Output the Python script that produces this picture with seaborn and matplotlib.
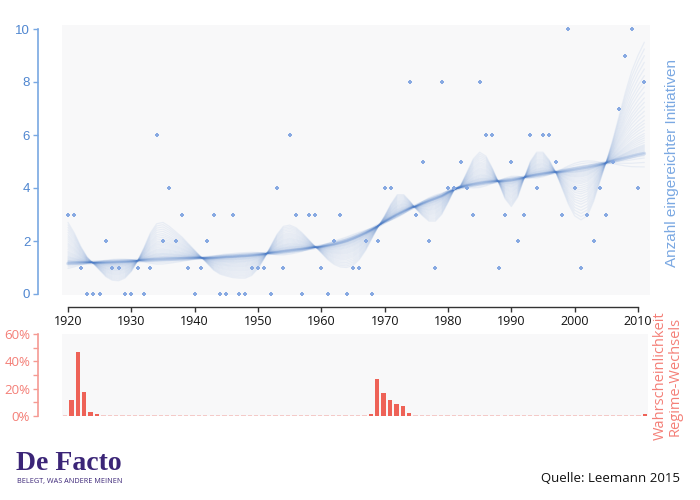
import numpy as np
import pandas as pd
import matplotlib
matplotlib.use("Agg")
import matplotlib.pyplot as plt
import seaborn as sns

# ---------------- data ----------------
years = list(range(1920, 2012))

initiatives = [3, 3, 1, 0, 0, 0, 2, 1, 1, 0,
               0, 1, 0, 1, 6, 2, 4, 2, 3, 1,
               0, 1, 2, 3, 0, 0, 3, 0, 0, 1,
               1, 1, 0, 4, 1, 6, 3, 0, 3, 3,
               1, 0, 2, 3, 0, 1, 1, 2, 0, 2,
               4, 4, np.nan, np.nan, 8, 3, 5, 2, 1, 8,
               4, 4, 5, 4, 3, 8, 6, 6, 1, 3,
               5, 2, 3, 6, 4, 6, 6, 5, 3, 10,
               4, 1, 3, 2, 4, 3, 5, 7, 9, 10,
               4, 8]

trend = [1.15, 1.16, 1.17, 1.18, 1.19, 1.20, 1.21, 1.22, 1.23, 1.24,
         1.25, 1.26, 1.27, 1.28, 1.29, 1.30, 1.31, 1.32, 1.33, 1.34,
         1.35, 1.36, 1.37, 1.38, 1.40, 1.42, 1.43, 1.45, 1.46, 1.48,
         1.50, 1.52, 1.54, 1.56, 1.59, 1.62, 1.65, 1.68, 1.72, 1.76,
         1.80, 1.85, 1.90, 1.96, 2.03, 2.12, 2.22, 2.33, 2.45, 2.58,
         2.72, 2.85, 2.98, 3.10, 3.22, 3.33, 3.44, 3.54, 3.63, 3.72,
         3.85, 3.95, 4.02, 4.08, 4.12, 4.16, 4.20, 4.23, 4.26, 4.29,
         4.32, 4.36, 4.40, 4.44, 4.48, 4.52, 4.56, 4.60, 4.64, 4.68,
         4.72, 4.76, 4.80, 4.85, 4.90, 4.95, 5.01, 5.07, 5.13, 5.19,
         5.25, 5.30]

flex = [2.70, 2.30, 1.80, 1.40, 1.15, 0.90, 0.65, 0.52, 0.50, 0.60,
        0.85, 1.25, 1.75, 2.30, 2.65, 2.70, 2.55, 2.35, 2.15, 1.90,
        1.65, 1.40, 1.15, 0.90, 0.75, 0.68, 0.62, 0.60, 0.60, 0.70,
        0.95, 1.35, 1.80, 2.25, 2.55, 2.60, 2.50, 2.30, 2.05, 1.80,
        1.55, 1.30, 1.12, 1.02, 1.00, 1.08, 1.30, 1.65, 2.10, 2.55,
        2.95, 3.40, 3.75, 3.75, 3.50, 3.20, 2.95, 2.75, 2.75, 3.00,
        3.45, 3.95, 4.10, 4.60, 5.10, 5.35, 5.20, 4.75, 4.20, 3.60,
        3.30, 3.65, 4.35, 5.00, 5.35, 5.35, 5.05, 4.60, 4.00, 3.40,
        2.95, 2.80, 2.95, 3.50, 4.25, 5.00, 5.80, 6.70, 7.60, 8.40,
        9.00, 9.50]

# mixing weights of the individual posterior draws between trend and flex curve
draw_weights = [-0.12, -0.08, -0.04, -0.02, 0.0, 0.0, 0.01, 0.02, 0.03, 0.04,
                0.05, 0.06, 0.07, 0.08, 0.10, 0.12, 0.14, 0.16, 0.18, 0.21,
                0.24, 0.27, 0.30, 0.34, 0.38, 0.42, 0.46, 0.50, 0.55, 0.60,
                0.65, 0.70, 0.76, 0.82, 0.88, 0.94, 1.0]

switch_prob = [0.7, 12.0, 47.0, 17.8, 3.2, 1.2, 0.8, 0.8, 0.7, 0.7,
               0.7, 0.7, 0.7, 0.6, 0.6, 0.6, 0.6, 0.6, 0.6, 0.6,
               0.6, 0.6, 0.6, 0.6, 0.6, 0.7, 0.8, 0.6, 0.6, 0.6,
               0.6, 0.6, 0.6, 0.6, 0.6, 0.7, 0.7, 0.6, 0.6, 0.7,
               0.7, 0.7, 0.7, 0.7, 0.6, 0.6, 0.6, 0.6, 1.7, 27.0,
               17.0, 12.0, 9.0, 7.0, 2.4, 0.5, 0.6, 0.6, 0.6, 0.6,
               0.7, 0.6, 0.6, 0.6, 0.6, 0.6, 0.6, 0.6, 0.6, 0.6,
               0.7, 0.6, 0.6, 0.6, 0.6, 0.6, 0.6, 0.6, 0.6, 0.6,
               0.6, 0.6, 0.6, 0.6, 0.6, 0.6, 0.6, 0.6, 0.6, 0.6,
               0.6, 1.5]

xticks = [1920, 1930, 1940, 1950, 1960, 1970, 1980, 1990, 2000, 2010]
yticks_top = [0, 2, 4, 6, 8, 10]
yticks_bottom = [0, 20, 40, 60]

# ---------------- style ----------------
sns.set_theme(style="white")
plt.rcParams["font.family"] = ["Liberation Sans", "DejaVu Sans"]

BLUE_LINE = "#4a7cc8"
BLUE_PT = "#87a9e2"
BLUE_TXT = "#4f86d0"
BLUE_SPINE = "#79a8e2"
RED_BAR = "#ee6257"
RED_TXT = "#f47f77"
RED_SPINE = "#f59a93"
BG = "#f8f8f9"

W, H = 700, 500
fig = plt.figure(figsize=(7, 5), dpi=100)

px = 72 / 100.0  # points per pixel

# ---------------- top panel ----------------
ax = fig.add_axes([62 / W, (H - 295) / H, 588 / W, 270 / H])
ax.set_facecolor(BG)

t = np.array(trend)
f = np.array(flex)
rows = []
for k, w in enumerate(draw_weights):
    vals = t + w * (f - t)
    for y, v in zip(years, vals):
        rows.append({"year": y, "value": v, "draw": k})
draws = pd.DataFrame(rows)
sns.lineplot(data=draws, x="year", y="value", units="draw", estimator=None,
             color=BLUE_LINE, alpha=0.09, linewidth=0.9, ax=ax, legend=False)
sns.lineplot(x=years, y=trend, color=BLUE_LINE, alpha=0.2, linewidth=2.6, ax=ax)

pts = pd.DataFrame({"year": years, "n": initiatives}).dropna()
sns.scatterplot(data=pts, x="year", y="n", ax=ax, color=BLUE_PT, s=9,
                marker="P", linewidth=0, clip_on=False, zorder=5)

px_per_year = 570 / 90.0
ax.set_xlim(1920 - 6 / px_per_year, 2010 + 12 / px_per_year)
ax.set_ylim(-1 / 26.5, 10 + 4 / 26.5)
ax.set_xlabel("")
ax.set_ylabel("")

for s in ["top", "right"]:
    ax.spines[s].set_visible(False)
ax.spines["left"].set_position(("outward", 24 * px))
ax.spines["left"].set_bounds(0, 10)
ax.spines["left"].set_color(BLUE_SPINE)
ax.spines["left"].set_linewidth(1.2)
ax.spines["bottom"].set_position(("outward", 12 * px))
ax.spines["bottom"].set_bounds(1920, 2010)
ax.spines["bottom"].set_color("#333333")
ax.spines["bottom"].set_linewidth(1.0)

ax.set_yticks(yticks_top)
ax.set_yticklabels([str(v) for v in yticks_top])
ax.tick_params(axis="y", left=True, colors=BLUE_SPINE, labelcolor=BLUE_TXT,
               length=5 * px, width=1, direction="out", labelsize=9.5, pad=2)
ax.set_xticks(xticks)
ax.set_xticklabels([str(v) for v in xticks], family=["Open Sans", "DejaVu Sans"])
ax.tick_params(axis="x", bottom=True, colors="#333333", labelcolor="#111111",
               length=5 * px, width=1, direction="out", labelsize=9, pad=2)
ax.grid(False)

# ---------------- bottom panel ----------------
bx = fig.add_axes([62 / W, (H - 416) / H, 586 / W, 82 / H])
bx.set_facecolor(BG)
bars = pd.DataFrame({"idx": list(range(len(switch_prob))), "p": switch_prob})
sns.barplot(data=bars, x="idx", y="p", color=RED_BAR, width=0.68, ax=bx,
            saturation=1, linewidth=0, edgecolor="none")
for patch in bx.patches:
    if patch.get_height() < 1.0:
        patch.set_alpha(0.3)
bx.set_xlim(-0.5, len(switch_prob) - 0.5)
bx.set_ylim(0, 60)
bx.set_xlabel("")
bx.set_ylabel("")
bx.set_xticks([])
for s in ["top", "right", "bottom"]:
    bx.spines[s].set_visible(False)
bx.spines["left"].set_position(("outward", 24 * px))
bx.spines["left"].set_bounds(0, 60)
bx.spines["left"].set_color(RED_SPINE)
bx.spines["left"].set_linewidth(1.2)
bx.set_yticks(yticks_bottom)
bx.set_yticklabels([f"{v}%" for v in yticks_bottom], family=["Open Sans", "DejaVu Sans"])
bx.set_yticks([10, 30, 50], minor=True)
bx.tick_params(axis="y", which="both", left=True, colors=RED_SPINE, labelcolor=RED_TXT,
               length=5 * px, width=1, direction="out", labelsize=9.5, pad=2)
bx.grid(False)

# ---------------- texts ----------------
fig.text(672 / W, 1 - 163 / H, "Anzahl eingereichter Initiativen", rotation=90,
         ha="center", va="center", color="#7aa8e2", fontsize=11)
fig.text(668 / W, 1 - 376 / H, "Wahrscheinlichkeit\nRegime-Wechsels", rotation=90,
         ha="center", va="center", color=RED_TXT, fontsize=10.5,
         family=["Open Sans", "DejaVu Sans"], linespacing=1.0)

fig.text(16 / W, 1 - 464 / H, "De Facto", ha="left", va="center",
         color="#3b2577", fontsize=20, fontweight="bold",
         family=["Liberation Serif", "DejaVu Serif"])
fig.text(17 / W, 1 - 481 / H, "BELEGT, WAS ANDERE MEINEN", ha="left", va="center",
         color="#3b2577", fontsize=5.2, family=["Open Sans", "DejaVu Sans"])
fig.text(680 / W, 1 - 479 / H, "Quelle: Leemann 2015", ha="right", va="center",
         color="#111111", fontsize=9.5, family=["Open Sans", "DejaVu Sans"])

fig.savefig("out.png", dpi=100, facecolor="white")
